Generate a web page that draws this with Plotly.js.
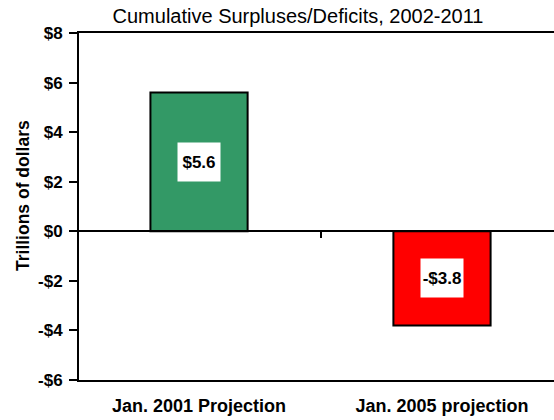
<!DOCTYPE html>
<html>
<head>
<meta charset="utf-8">
<script src="https://cdn.plot.ly/plotly-3.0.1.min.js"></script>
<style>html,body{margin:0;padding:0;background:#fff;}#chart{width:554px;height:420px;}</style>
</head>
<body>
<div id="chart"></div>
<script>
const categories = ["Jan. 2001 Projection", "Jan. 2005 projection"];
const values = [5.6, -3.8];
const barColors = ["#339966", "#FF0000"];
const yTickVals = [-6, -4, -2, 0, 2, 4, 6, 8];
const yTickText = ["-$6", "-$4", "-$2", "$0", "$2", "$4", "$6", "$8"];
const chartTitle = "Cumulative Surpluses/Deficits, 2002-2011";
const yTitle = "Trillions of dollars";

const FONT = "Liberation Sans, Arial, sans-serif";
const xRange = [-0.494, 1.461];
const yRange = [-6, 8];

function fmt(v) { return (v < 0 ? "-" : "") + "$" + Math.abs(v).toFixed(1); }

const traces = [
  {
    type: "bar",
    x: categories,
    y: values,
    width: 0.4,
    marker: { color: barColors, line: { color: "#000", width: 2 } },
    hoverinfo: "none",
    showlegend: false
  },
  {
    type: "scatter",
    x: [],
    y: [],
    xaxis: "x2",
    showlegend: false,
    hoverinfo: "none"
  }
];

const annotations = categories.map((c, i) => ({
  x: c, y: values[i] / 2, xref: "x", yref: "y",
  text: fmt(values[i]), showarrow: false,
  bgcolor: "#fff", width: 40, height: 36,
  font: { family: FONT, size: 17, color: "#000", weight: "bold" }
}));
annotations.push({
  text: yTitle, textangle: -90, showarrow: false,
  xref: "paper", yref: "paper", x: (23 - 79) / 475, y: (380 - 196) / 347,
  xanchor: "center", yanchor: "middle",
  font: { family: FONT, size: 17.5, color: "#000", weight: "bold" }
});

const layout = {
  width: 554, height: 420,
  margin: { l: 79, r: 0, t: 33, b: 40 },
  paper_bgcolor: "#fff", plot_bgcolor: "#fff",
  font: { family: FONT, color: "#000" },
  title: {
    text: chartTitle, xref: "container", x: 298 / 554, xanchor: "center",
    yref: "container", y: 1 - 16 / 420, yanchor: "middle",
    font: { family: FONT, size: 20, color: "#000" }
  },
  xaxis: {
    type: "category", range: xRange, showline: true, mirror: true,
    linecolor: "#000", linewidth: 2, ticks: "", showgrid: false, zeroline: false,
    ticklabelstandoff: 8,
    tickfont: { family: FONT, size: 18, color: "#000", weight: "bold" }
  },
  xaxis2: {
    overlaying: "x", anchor: "free", position: 6 / 14, type: "linear",
    range: xRange, tickvals: [0.5], ticks: "outside", ticklen: 6, tickwidth: 2,
    tickcolor: "#000", showticklabels: false, showline: true, linecolor: "#000",
    linewidth: 2, showgrid: false, zeroline: false
  },
  yaxis: {
    range: yRange, tickvals: yTickVals, ticktext: yTickText,
    showline: true, linecolor: "#000", linewidth: 2,
    ticks: "outside", ticklen: 8, tickwidth: 2, tickcolor: "#000",
    showgrid: false, zeroline: false, ticklabelstandoff: 3,
    tickfont: { family: FONT, size: 17, color: "#000", weight: "bold" }
  },
  annotations: annotations,
  showlegend: false
};

Plotly.newPlot("chart", traces, layout, { staticPlot: true, displayModeBar: false });
</script>
</body>
</html>
